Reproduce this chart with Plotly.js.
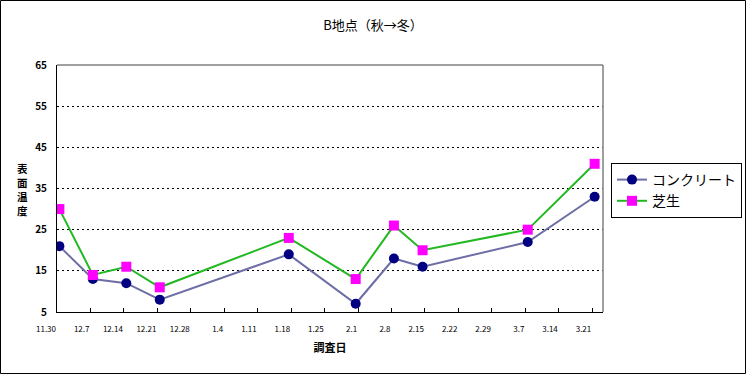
<!DOCTYPE html>
<html>
<head>
<meta charset="utf-8">
<script src="https://cdn.plot.ly/plotly-3.0.1.min.js"></script>
<style>html,body{margin:0;padding:0;background:#fff;}#chart{width:746px;height:374px;}</style>
</head>
<body>
<div id="chart"></div>
<script>
// Survey dates
var surveyDates = ['2003-11-30','2003-12-07','2003-12-14','2003-12-21','2004-01-17','2004-01-31','2004-02-08','2004-02-14','2004-03-07','2004-03-21'];
// Surface temperature values
var concrete = [21, 13, 12, 8, 19, 7, 18, 16, 22, 33];
var shiba    = [30, 14, 16, 11, 23, 13, 26, 20, 25, 41];
// Weekly tick dates and labels
var tickDates  = ['2003-11-30','2003-12-07','2003-12-14','2003-12-21','2003-12-28','2004-01-04','2004-01-11','2004-01-18','2004-01-25','2004-02-01','2004-02-08','2004-02-15','2004-02-22','2004-02-29','2004-03-07','2004-03-14','2004-03-21'];
var tickLabels = ['11.30','12.7','12.14','12.21','12.28','1.4','1.11','1.18','1.25','2.1','2.8','2.15','2.22','2.29','3.7','3.14','3.21'];
var yTicks = [5, 15, 25, 35, 45, 55, 65];
var yTitleChars = ['表', '面', '温', '度'];

function shiftHours(d, h) {
  var t = Date.parse(d + 'T00:00:00Z') + h * 3600e3;
  return new Date(t).toISOString().replace('T', ' ').slice(0, 19);
}
var tickVals = tickDates.map(function (d) { return shiftHours(d, -12); });
var xRange = [shiftHours('2003-11-30', -12), shiftHours('2004-03-22', 18)];

var FONT = '"Noto Sans CJK JP", "Noto Sans", sans-serif';

var traces = [
  {
    x: surveyDates, y: concrete, name: 'コンクリート', type: 'scatter', mode: 'lines+markers',
    line: {color: '#6e6ea6', width: 2},
    marker: {symbol: 'circle', size: 10, color: '#000080'}
  },
  {
    x: surveyDates, y: shiba, name: '芝生', type: 'scatter', mode: 'lines+markers',
    line: {color: '#22b822', width: 2},
    marker: {symbol: 'square', size: 10, color: '#ff00ff'}
  }
];

var L = 57, R = 603, T = 65, B = 312, W = 746, H = 374;
var pw = R - L, ph = B - T;
function px(x) { return (x - L) / pw; }
function py(y) { return (B - y) / ph; }

var annotations = yTitleChars.map(function (c, i) {
  return {text: c, xref: 'paper', yref: 'paper', x: px(22), y: py(168 + i * 14), xanchor: 'center', yanchor: 'middle', showarrow: false,
          font: {family: FONT, size: 10.5, color: '#000', weight: 'bold'}};
});

var layout = {
  width: W, height: H,
  margin: {l: L, r: W - R, t: T, b: H - B, pad: 0, autoexpand: false},
  paper_bgcolor: '#ffffff', plot_bgcolor: '#ffffff',
  font: {family: FONT, color: '#000', size: 10},
  title: {text: 'B地点（秋→冬）', font: {family: FONT, size: 13, color: '#000'}, xref: 'container', x: 373 / W, xanchor: 'center', y: 1 - 25 / H, yanchor: 'middle'},
  showlegend: true,
  legend: {
    xref: 'container', yref: 'container',
    x: 611 / W, y: 1 - 163 / H, xanchor: 'left', yanchor: 'top',
    bgcolor: '#fff', bordercolor: '#000', borderwidth: 1,
    font: {family: FONT, size: 14, color: '#000'},
    tracegroupgap: 0
  },
  xaxis: {
    type: 'date', range: xRange,
    tickmode: 'array', tickvals: tickVals, ticktext: tickLabels,
    ticks: 'inside', ticklen: 4, tickcolor: '#000', tickwidth: 1,
    ticklabelposition: 'outside left', ticklabelstandoff: 9,
    tickfont: {family: FONT, size: 8, color: '#000'},
    showgrid: false, zeroline: false, automargin: false,
    showline: true, linecolor: '#000', linewidth: 1,
    title: {text: '調査日', font: {family: FONT, size: 11, color: '#000', weight: 'bold'}, standoff: 11}
  },
  yaxis: {
    range: [5, 65], tickmode: 'array', tickvals: yTicks, ticktext: yTicks.map(String),
    ticks: '', ticklabelstandoff: 7, automargin: false,
    tickfont: {family: FONT, size: 10, color: '#000', weight: 'bold'},
    showgrid: true, gridcolor: '#000', gridwidth: 1, griddash: '2px,3px',
    zeroline: false, showline: true, linecolor: '#000', linewidth: 1
  },
  shapes: [
    {type: 'line', xref: 'paper', yref: 'paper', x0: 0, x1: 1, y0: 1, y1: 1, line: {color: '#808080', width: 1.5}, layer: 'above'},
    {type: 'line', xref: 'paper', yref: 'paper', x0: 1, x1: 1, y0: 0, y1: 1, line: {color: '#808080', width: 1.5}, layer: 'above'},
    {type: 'rect', xref: 'paper', yref: 'paper', x0: px(0.5), x1: px(745.5), y0: py(373.5), y1: py(0.5), line: {color: '#000', width: 1}, fillcolor: 'rgba(0,0,0,0)', layer: 'above'}
  ],
  annotations: annotations
};

Plotly.newPlot('chart', traces, layout, {displayModeBar: false, staticPlot: true});
</script>
</body>
</html>
